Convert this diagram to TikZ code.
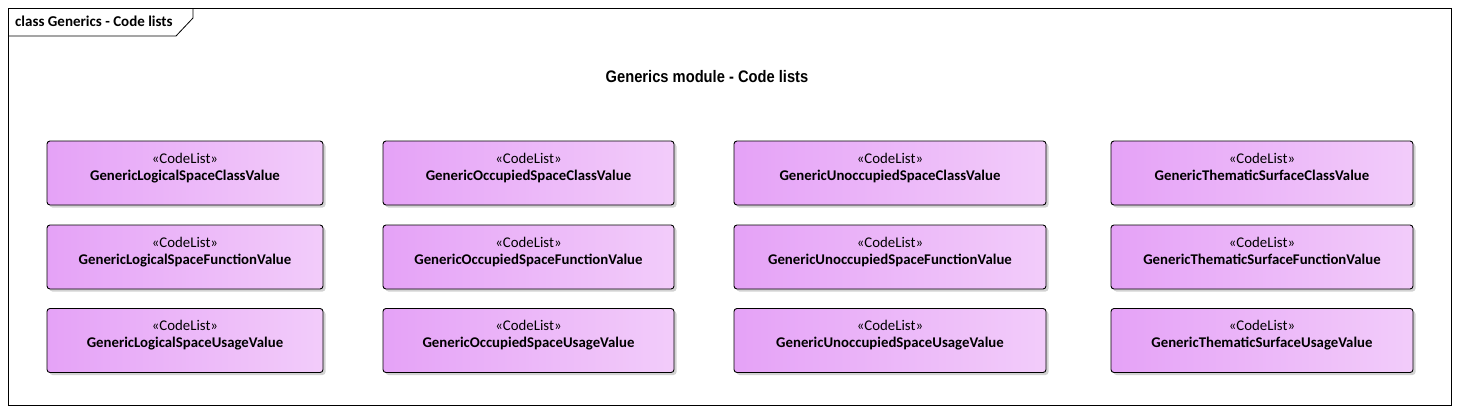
\documentclass[tikz,border=0pt]{standalone}
\usepackage{fontspec}
\setmainfont{Carlito}
\newfontfamily\titlefont{Liberation Sans}
\usetikzlibrary{shadows}
\definecolor{pkL}{RGB}{229,162,247}
\definecolor{pkR}{RGB}{242,204,250}
\tikzset{
  cl/.style={draw=black, line width=0.9pt, rounded corners=3pt, left color=pkL, right color=pkR,
    drop shadow={shadow xshift=2.5pt, shadow yshift=-2.5pt, opacity=0.35, fill=gray},
    minimum height=64pt, inner sep=0pt, align=center, font=\fontsize{14.8}{17}\selectfont},
}
\newcommand{\cltext}[1]{\raisebox{2pt}{\smash{\begin{tabular}{@{}c@{}}«CodeList»\\\textbf{#1}\end{tabular}}}}
\begin{document}
\begin{tikzpicture}[x=1pt,y=-1pt]
\useasboundingbox (0,0) rectangle (1459,413);
\fill[white] (0,0) rectangle (1459,413);
\draw[line width=0.8pt] (8,8) rectangle (1451,405);
\draw[line width=0.8pt] (8,36) -- (176,36) -- (193,18) -- (193,8);
\node[anchor=west, inner sep=0pt, font=\fontsize{15}{17}\selectfont\bfseries] (tab) at (15,21) {class Generics - Code lists};
\node[font=\titlefont\bfseries\fontsize{16.7}{19}\selectfont] (title) at (707,77) {\scalebox{0.88}[1]{Generics module - Code lists}};
\foreach \cx/\w/\nm [count=\i] in {185/276/Logical, 528.5/291/Occupied, 890/312/Unoccupied, 1262/302/Thematic}{
  \foreach \ry/\kind [count=\j] in {173/Class, 257/Function, 340.5/Usage}{
    \ifnum\i=4
      \node[cl, minimum width=\w pt] (n\i\j) at (\cx,\ry) {\cltext{Generic\nm Surface\kind Value}};
    \else
      \node[cl, minimum width=\w pt] (n\i\j) at (\cx,\ry) {\cltext{Generic\nm Space\kind Value}};
    \fi
  }
}
\end{tikzpicture}
\end{document}
